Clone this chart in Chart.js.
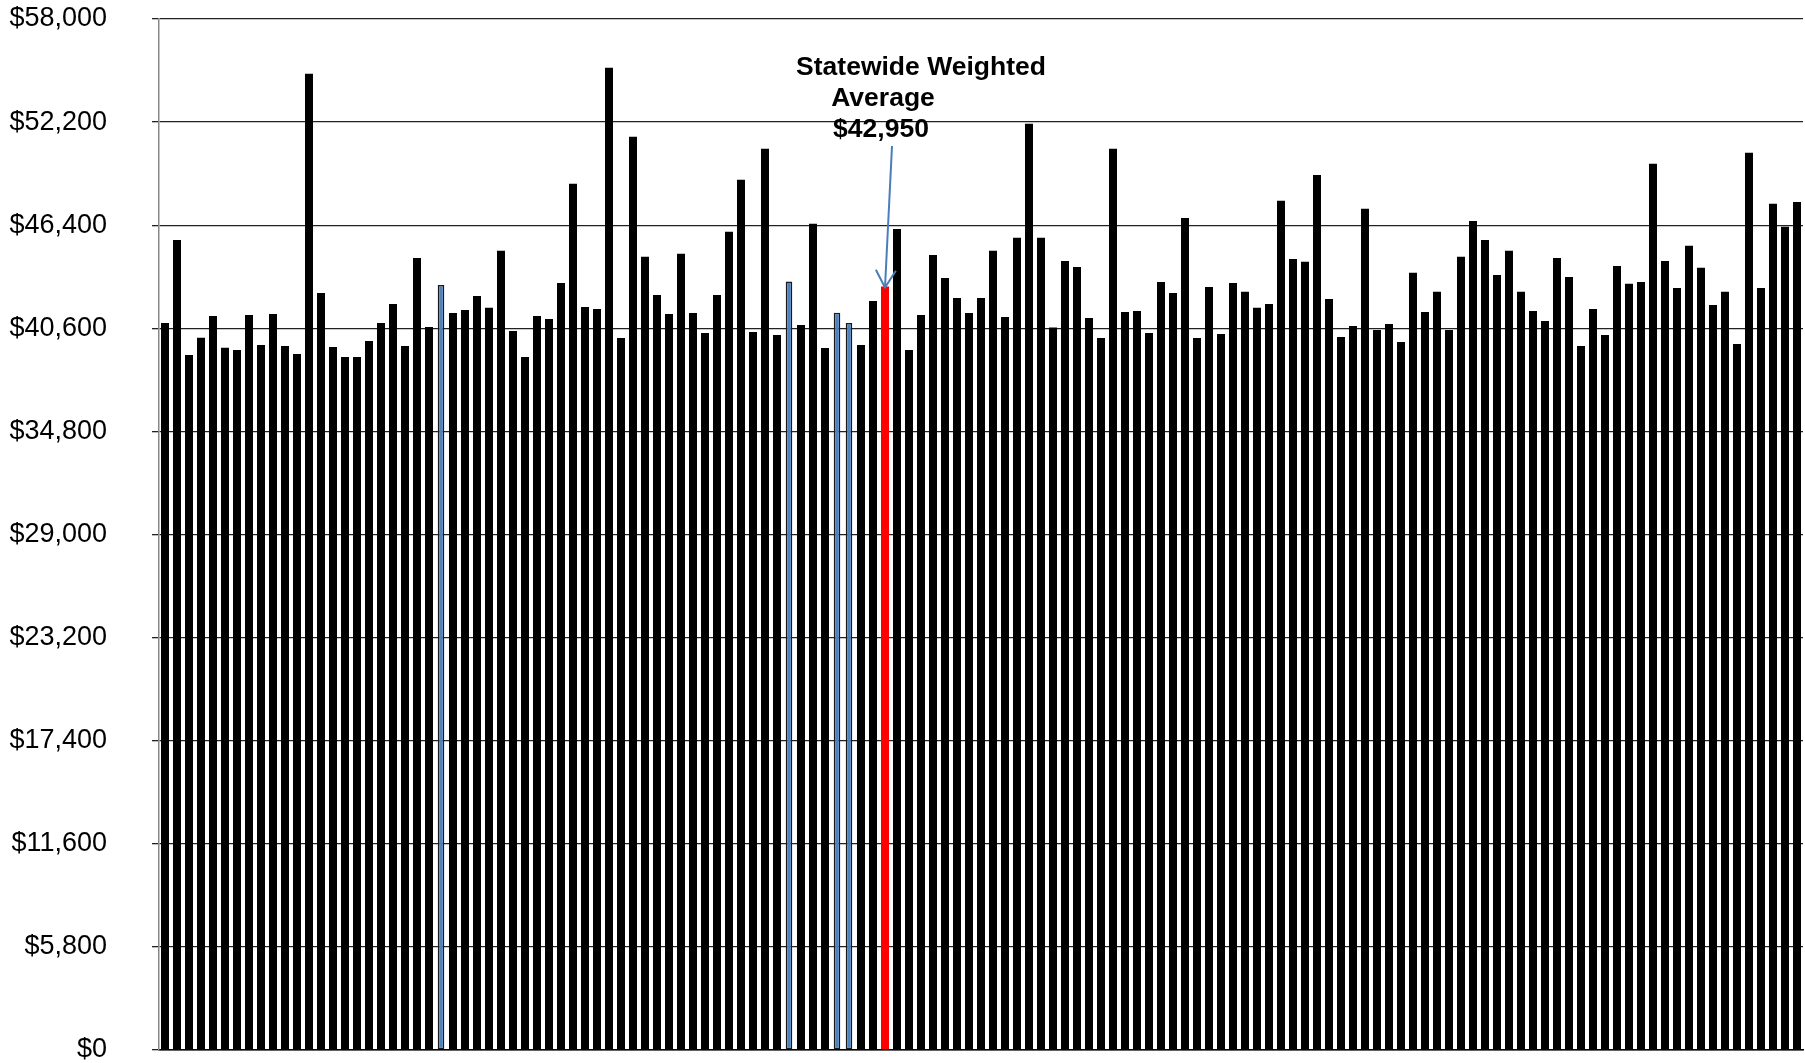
<!DOCTYPE html>
<html>
<head>
<meta charset="utf-8">
<script src="https://cdn.jsdelivr.net/npm/chart.js@4/dist/chart.umd.min.js"></script>
<style>
  html, body { margin: 0; padding: 0; background: #fff; }
  #chart { display: block; }
</style>
</head>
<body>
<canvas id="chart" width="1805" height="1063"></canvas>
<script>
// Average salary per district (left to right)
const salaries = [
  40900, 45570, 39100, 40070, 41290, 39510, 39380, 41350, 39660, 41410,
  39610, 39160, 54920, 42590, 39550, 38990, 38990, 39890, 40900, 41970,
  39610, 44560, 40680, 43040, 41460, 41630, 42420, 41750, 44960, 40450,
  38990, 41290, 41130, 43150, 48730, 41800, 41690, 55260, 40060, 51370,
  44620, 42480, 41410, 44790, 41460, 40340, 42480, 46030, 48950, 40390,
  50700, 40230, 43230, 40790, 46480, 39490, 41480, 40900, 39660, 42140,
  42950, 46190, 39380, 41350, 44730, 43430, 42310, 41460, 42310, 44960,
  41240, 45690, 52110, 45690, 40640, 44390, 44050, 41180, 40060, 50700,
  41520, 41580, 40340, 43210, 42590, 46810, 40060, 42930, 40280, 43150,
  42650, 41750, 41970, 47770, 44500, 44340, 49230, 42250, 40110, 40730,
  47320, 40510, 40840, 39830, 43720, 41520, 42650, 40510, 44620, 46640,
  45570, 43600, 44960, 42650, 41580, 41010, 44560, 43490, 39610, 41690,
  40230, 44110, 43100, 43210, 49850, 44390, 42870, 45240, 44000, 41910,
  42650, 39720, 50470, 42870, 47600, 46310, 47710
];
const districts = salaries.map((_, i) => 'District ' + (i + 1));

// bars drawn blue (0-based positions) and the statewide average bar (red)
const highlighted = [23, 52, 56, 57];
const averageIndex = 60;
const statewideAverage = 42950;
const annotationLines = ['Statewide Weighted', 'Average', '$42,950'];

// y axis ticks
const yMax = 58000;
const yStep = 5800;

const mainData = salaries.map((v, i) => highlighted.includes(i) ? null : v);
const blueData = salaries.map((v, i) => highlighted.includes(i) ? v : null);
const mainColors = salaries.map((v, i) => i === averageIndex ? '#ff0000' : '#000000');

// label + arrow pointing at the average bar
const annotationPlugin = {
  id: 'avgNote',
  afterDatasetsDraw(chart) {
    const { ctx, scales: { x, y } } = chart;
    const tipX = x.getPixelForValue(averageIndex);
    const tipY = y.getPixelForValue(statewideAverage) + 1;
    // first line sits a bit to the right, the other two are centred over the bar
    const lineX = [tipX + 36, tipX - 2, tipX - 4];

    ctx.save();
    ctx.fillStyle = '#000';
    ctx.font = 'bold 26.5px "Liberation Sans", Arial, sans-serif';
    ctx.textAlign = 'center';
    ctx.textBaseline = 'middle';
    annotationLines.forEach((line, i) => ctx.fillText(line, lineX[i], 68 + i * 31));

    // arrow shaft
    const startX = tipX + 7, startY = 146;
    ctx.strokeStyle = '#4a7ebb';
    ctx.lineWidth = 2;
    ctx.beginPath();
    ctx.moveTo(startX, startY);
    ctx.lineTo(tipX, tipY);
    ctx.stroke();

    // open arrow head
    const ang = Math.atan2(tipY - startY, tipX - startX);
    const len = 20, spread = Math.PI / 6;
    ctx.beginPath();
    ctx.moveTo(tipX - len * Math.cos(ang - spread), tipY - len * Math.sin(ang - spread));
    ctx.lineTo(tipX, tipY);
    ctx.lineTo(tipX - len * Math.cos(ang + spread), tipY - len * Math.sin(ang + spread));
    ctx.stroke();
    ctx.restore();
  }
};

const ctx = document.getElementById('chart').getContext('2d');
new Chart(ctx, {
  type: 'bar',
  data: {
    labels: districts,
    datasets: [
      {
        data: mainData,
        backgroundColor: mainColors,
        borderWidth: 0,
        barPercentage: 0.667,
        categoryPercentage: 1,
        grouped: false
      },
      {
        data: blueData,
        backgroundColor: '#4f81bd',
        borderColor: '#1a1a1a',
        borderWidth: 1.5,
        borderSkipped: false,
        barPercentage: 0.55,
        categoryPercentage: 1,
        grouped: false
      }
    ]
  },
  options: {
    responsive: false,
    animation: false,
    layout: { padding: { top: 19, bottom: 5, right: 2, left: 0 } },
    plugins: {
      legend: { display: false },
      tooltip: { enabled: false }
    },
    scales: {
      x: {
        grid: { display: false },
        border: { display: true, color: '#000', width: 1.5 },
        ticks: { display: false }
      },
      y: {
        min: 0,
        max: yMax,
        afterFit(scale) {
          // fixed axis width; don't let the label padding eat the plot height
          scale.width = 159;
          scale.paddingTop = 0;
          scale.paddingBottom = 0;
        },
        ticks: {
          stepSize: yStep,
          padding: 45,
          color: '#000',
          font: { family: '"Liberation Sans", Arial, sans-serif', size: 27 },
          callback: v => '$' + v.toLocaleString('en-US')
        },
        grid: { color: '#222', lineWidth: 1.3, tickLength: 7 },
        border: { display: true, color: '#888', width: 1.5 }
      }
    }
  },
  plugins: [annotationPlugin]
});
</script>
</body>
</html>
